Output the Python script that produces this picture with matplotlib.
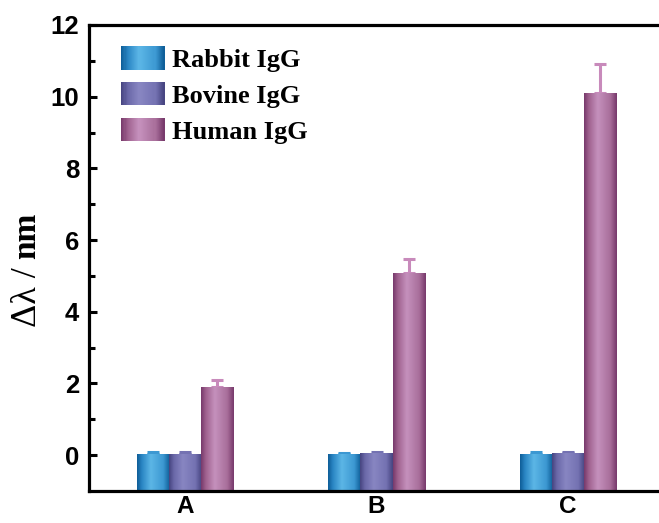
import numpy as np
import matplotlib
matplotlib.use("Agg")
import matplotlib.pyplot as plt
from matplotlib.colors import LinearSegmentedColormap
from matplotlib.patches import Rectangle
from matplotlib.legend_handler import HandlerBase

# ---- data ----
groups = ["A", "B", "C"]
series = ["Rabbit IgG", "Bovine IgG", "Human IgG"]
rabbit = [0.03, 0.02, 0.03]
bovine = [0.03, 0.04, 0.05]
human = [1.90, 5.07, 10.10]
rabbit_err = [0.06, 0.05, 0.05]
bovine_err = [0.05, 0.04, 0.04]
human_err = [0.19, 0.40, 0.80]
yticks = [0, 2, 4, 6, 8, 10, 12]

values = [rabbit, bovine, human]
errors = [rabbit_err, bovine_err, human_err]

# gradient palettes (dark edge, mid, light, mid, dark edge)
palettes = [
    ["#0d5c96", "#2a86c4", "#5cb6e6", "#3c98d2", "#0d5c96"],
    ["#45437f", "#6a68a8", "#8886c2", "#7472b2", "#45437f"],
    ["#76386a", "#a0628f", "#c591bd", "#a86e9a", "#76386a"],
]
err_colors = ["#3c98d2", "#7472b2", "#c88abb"]
cmaps = [LinearSegmentedColormap.from_list(f"g{i}", list(zip([0, 0.15, 0.42, 0.8, 1.0], p)))
         for i, p in enumerate(palettes)]

fig = plt.figure(figsize=(6.59, 5.23), dpi=100)
ax = fig.add_axes([89 / 659, 1 - 491 / 523, (664 - 89) / 659, (491 - 25) / 523])

ymin, ymax = -1, 12
xmin, xmax = -0.5, 2.5
width = 0.167
x = np.arange(len(groups))
grad = np.linspace(0, 1, 256).reshape(1, -1)

for i, (vals, errs) in enumerate(zip(values, errors)):
    offs = (i - 1) * width
    for xi, v, e in zip(x, vals, errs):
        x0 = xi + offs - width / 2
        x1 = xi + offs + width / 2
        ax.imshow(grad, cmap=cmaps[i], extent=[x0, x1, ymin, v], aspect="auto",
                  interpolation="bicubic", zorder=2)
    ax.errorbar(x + offs, vals, yerr=[np.zeros(len(errs)), errs], fmt="none",
                ecolor=err_colors[i], elinewidth=2.2, capsize=4.5, capthick=2.2, zorder=1)

ax.set_xlim(xmin, xmax)
ax.set_ylim(ymin, ymax)
ax.set_xticks(x)
ax.set_xticklabels(groups)
ax.set_yticks(yticks)
ax.set_yticks([1, 3, 5, 7, 9, 11], minor=True)

for s in ax.spines.values():
    s.set_linewidth(2.3)
ax.tick_params(axis="both", which="major", direction="in", length=6, width=2.2,
               labelsize=18.5, pad=7)
ax.tick_params(axis="x", which="major", labelsize=17.5, pad=3)
ax.tick_params(axis="both", which="minor", direction="in", length=4, width=2.2)
ax.tick_params(axis="x", which="minor", bottom=False)
for lab in ax.get_xticklabels() + ax.get_yticklabels():
    lab.set_fontfamily("Liberation Sans")
    lab.set_fontweight("bold")

# y label: "Δλ / " regular + "nm" bold, rotated, centred near y = 270 px
renderer = fig.canvas.get_renderer()
H = fig.bbox.height
t1 = fig.text(27 / 659, 0.5, "Δλ /", rotation=90, ha="center", va="bottom",
              fontsize=26, fontfamily="Liberation Serif")
t2 = fig.text(27 / 659, 0.5, "nm", rotation=90, ha="center", va="bottom",
              fontsize=24, fontfamily="Liberation Serif", fontweight="bold")
gap = 8
h1 = t1.get_window_extent(renderer).height
h2 = t2.get_window_extent(renderer).height
total = h1 + gap + h2
y_bottom = (H - 270) - total / 2
t1.set_y(y_bottom / H)
t2.set_y((y_bottom + h1 + gap) / H)


class GradHandler(HandlerBase):
    def __init__(self, cmap):
        super().__init__()
        self.cmap = cmap

    def create_artists(self, legend, orig_handle, xdescent, ydescent, width, height,
                       fontsize, trans):
        n = 40
        arts = []
        for k in range(n):
            r = Rectangle((-xdescent + width * k / n, -ydescent), width / n + 0.3, height,
                          facecolor=self.cmap((k + 0.5) / n), edgecolor="none",
                          transform=trans)
            arts.append(r)
        return arts


handles = [Rectangle((0, 0), 1, 1) for _ in series]
leg = ax.legend(handles, series, loc="upper left", bbox_to_anchor=(0.056, 0.955),
                frameon=False, borderpad=0, borderaxespad=0, handlelength=1.63,
                handleheight=1.0, handletextpad=0.3, labelspacing=0.38,
                prop={"family": "Liberation Serif", "weight": "bold", "size": 19},
                handler_map={h: GradHandler(c) for h, c in zip(handles, cmaps)})

fig.savefig("out.png", dpi=100)
